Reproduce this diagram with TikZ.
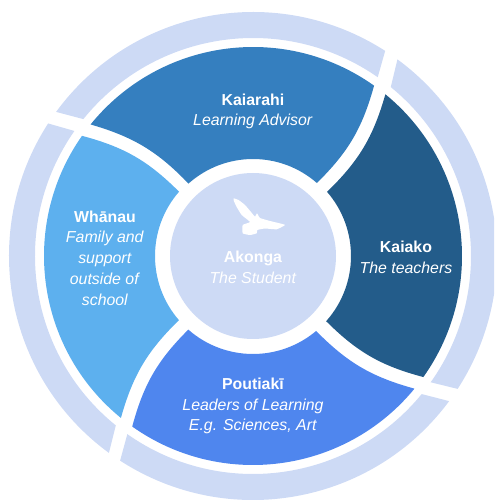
\documentclass[tikz,border=0pt]{standalone}
\usepackage{fontspec}
\usetikzlibrary{calc}
\setmainfont{Liberation Sans}
\definecolor{ringc}{HTML}{CDDAF5}
\definecolor{kaic}{HTML}{357FBF}
\definecolor{darkc}{HTML}{235C8A}
\definecolor{pouc}{HTML}{4F86EE}
\definecolor{whac}{HTML}{5DB0EE}
\tikzset{
  lbl/.style={text=white,align=center,font=\fontsize{11.9}{15.6}\selectfont},
}
\begin{document}
\begin{tikzpicture}[x=0.75pt,y=0.75pt]
\useasboundingbox (0,0) rectangle (494,500);
\clip (0,0) rectangle (494,500);
\coordinate (c) at (253,244);
% outer ring
\fill[ringc] ($(c)+(57.2:244)$) arc[start angle=57.2,end angle=143.8,radius=244] -- ($(c)+(141.1:218)$) arc[start angle=141.1,end angle=55.1,radius=218] -- cycle;
\fill[ringc] ($(c)+(53.7:244)$) arc[start angle=53.7,end angle=-33,radius=244] -- ($(c)+(-35.4:218)$) arc[start angle=-35.4,end angle=50.8,radius=218] -- cycle;
\fill[ringc] ($(c)+(-36.5:244)$) arc[start angle=-36.5,end angle=-123,radius=244] -- ($(c)+(-125.2:218)$) arc[start angle=-125.2,end angle=-39.3,radius=218] -- cycle;
\fill[ringc] ($(c)+(233.8:244)$) arc[start angle=233.8,end angle=147.1,radius=244] -- ($(c)+(145:218)$) arc[start angle=145,end angle=231,radius=218] -- cycle;
% segments
\fill[kaic] ($(c)+(141:209)$) arc[start angle=141,end angle=54.6,radius=209] to[bend left=15] ($(c)+(48.8:97)$) arc[start angle=48.8,end angle=131.7,radius=97] to[bend right=15] cycle;
\fill[darkc] ($(c)+(50.7:209)$) arc[start angle=50.7,end angle=-35.4,radius=209] to[bend left=15] ($(c)+(-41.7:98)$) arc[start angle=-41.7,end angle=40.9,radius=98] to[bend right=15] cycle;
\fill[pouc] ($(c)+(-39.4:209)$) arc[start angle=-39.4,end angle=-125.3,radius=209] to[bend left=15] ($(c)+(-131.3:98)$) arc[start angle=-131.3,end angle=-49.9,radius=98] to[bend right=15] cycle;
\fill[whac] ($(c)+(230.8:209)$) arc[start angle=230.8,end angle=144.9,radius=209] to[bend left=15] ($(c)+(139:98)$) arc[start angle=139,end angle=220.9,radius=98] to[bend right=15] cycle;
% centre
\fill[ringc] (c) circle[radius=83];
% bird
\fill[white] plot[smooth cycle,tension=0.25] coordinates {(233.5,301.7) (238.5,300) (245,295) (251,288) (255,283.3) (257,286.7) (260,282) (270,279) (278.3,277) (285,275) (276.7,270.7) (265,271.5) (257.3,270) (256.7,266.7) (250,265) (242.7,266.7) (242.7,275) (250,278) (241.7,285) (236.7,293) (234,298.7)};
% labels
\node[lbl] (kai) at (253,388.5) {\textbf{Kaiarahi}\\\textit{Learning Advisor}};
\node[lbl] (tea) at (406,243) {\textbf{Kaiako}\\\textit{The teachers}};
\node[lbl] (pou) at (253,94) {\textbf{Poutiakī}\\\textit{Leaders of Learning}\\\textit{E.g. Sciences, Art}};
\node[lbl] (wha) at (105,242) {\textbf{Whānau}\\\textit{Family and}\\\textit{support}\\\textit{outside of}\\\textit{school}};
\node[lbl] (ako) at (253,233) {\textbf{Akonga}\\\textit{The Student}};
\end{tikzpicture}
\end{document}
